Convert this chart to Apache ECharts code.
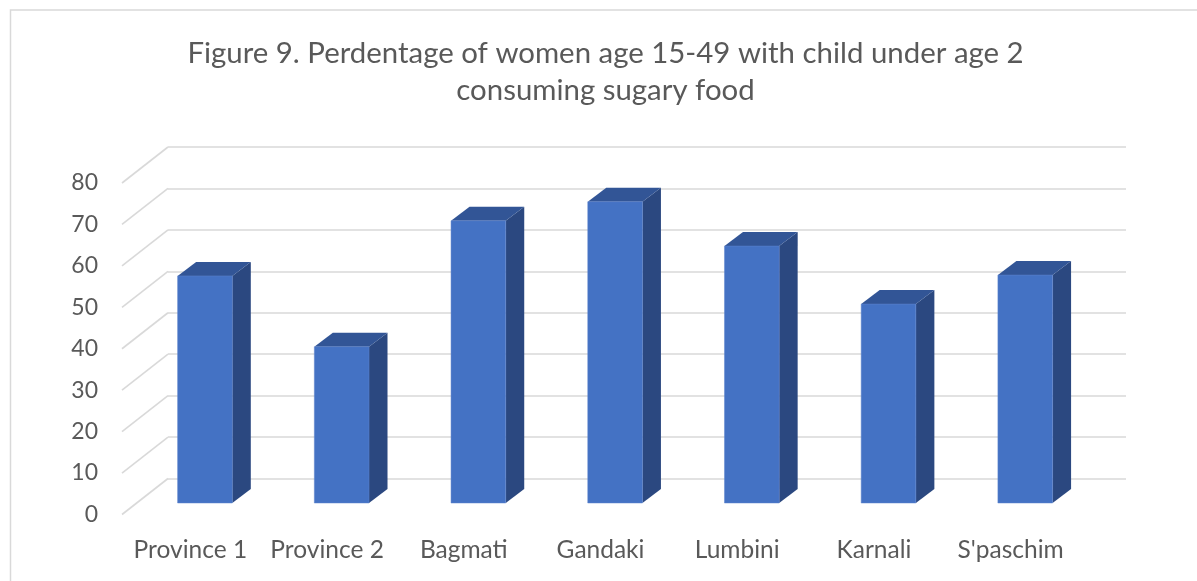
<!DOCTYPE html>
<html><head><meta charset="utf-8">
<script src="https://cdn.jsdelivr.net/npm/echarts@6/dist/echarts.min.js"></script>
<style>html,body{margin:0;padding:0;background:#fff}#c{width:1197px;height:581px}</style></head>
<body><div id="c"></div>
<script>
const titleText = "Figure 9. Perdentage of women age 15-49 with child under age 2\nconsuming sugary food";
const categories = ["Province 1","Province 2","Bagmati","Gandaki","Lumbini","Karnali","S'paschim"];
const values = [54.8,37.7,68.1,72.7,62,48,55];
const ticks = [0,10,20,30,40,50,60,70,80];
const FONT = "Lato";
const TEXT = "#595959", GRID = "#d9d9d9";
const FRONT = "#4472c4", TOP = "#325596", SIDE = "#2b4880";
const BAR_FRACTION = 0.4, BAR_DX = 18.5, BAR_DY = 14, WALL_DX = 46, WALL_DY = 36;

function barItem(params, api){
  const i = api.value(0), v = api.value(1);
  const top = api.coord([i, v]), base = api.coord([i, 0]);
  const w = api.size([1,0])[0] * BAR_FRACTION;
  const l = top[0]-w/2, r = top[0]+w/2, t = top[1], b = base[1];
  return {type:'group', children:[
    {type:'polygon', shape:{points:[[r,t],[r+BAR_DX,t-BAR_DY],[r+BAR_DX,b-BAR_DY],[r,b]]}, style:{fill:SIDE}},
    {type:'polygon', shape:{points:[[l,t],[l+BAR_DX,t-BAR_DY],[r+BAR_DX,t-BAR_DY],[r,t]]}, style:{fill:TOP}},
    {type:'rect', shape:{x:l,y:t,width:w,height:b-t}, style:{fill:FRONT, stroke:'#5f85cc', lineWidth:0.5}}
  ]};
}
function sideItem(params, api){
  const y = api.coord([0, api.value(0)])[1];
  const x = params.coordSys.x;
  return {type:'line', shape:{x1:x,y1:y,x2:x+WALL_DX,y2:y-WALL_DY},
          style:{stroke:GRID,lineWidth:1.6}};
}
const chart = echarts.init(document.getElementById('c'), null, {renderer:'canvas'});
chart.setOption({
  animation:false,
  backgroundColor:'#fff',
  title:{text:titleText,left:600.5,top:30,textAlign:'center',
    textStyle:{fontFamily:FONT,fontSize:29.4,fontWeight:'normal',color:TEXT,lineHeight:37}},
  graphic:[{type:'polyline',silent:true,shape:{points:[[10.5,581],[10.5,10],[1197,10]]},
    style:{fill:null,stroke:'#d9d9d9',lineWidth:1.5}}],
  grid:[
    {left:168,top:147,width:958,height:331.5},
    {left:136.6,top:171.5,width:957,height:331.5},
    {left:122,top:183,width:957,height:331.5}
  ],
  xAxis:[
    {gridIndex:0,type:'value',min:0,max:1,show:false},
    {gridIndex:1,type:'category',data:categories,show:false},
    {gridIndex:2,type:'category',data:categories,axisLine:{show:false},axisTick:{show:false},
      axisLabel:{fontFamily:FONT,fontSize:24.5,color:TEXT,margin:23,interval:0}}
  ],
  yAxis:[
    {gridIndex:0,type:'value',min:0,max:80,interval:10,axisLabel:{show:false},axisLine:{show:false},axisTick:{show:false},
      splitLine:{lineStyle:{color:GRID,width:1.6}}},
    {gridIndex:1,type:'value',min:0,max:80,interval:10,show:false,splitLine:{show:false}},
    {gridIndex:2,type:'value',min:0,max:80,interval:10,axisLine:{show:false},axisTick:{show:false},splitLine:{show:false},
      axisLabel:{fontFamily:FONT,fontSize:23,color:TEXT,margin:24,padding:[0,0,-5,0]}}
  ],
  series:[
    {type:'custom',xAxisIndex:2,yAxisIndex:2,data:ticks.map(t=>[t]),encode:{y:0},renderItem:sideItem,z:1,silent:true},
    {type:'custom',xAxisIndex:1,yAxisIndex:1,data:values.map((v,i)=>[i,v]),encode:{x:0,y:1},renderItem:barItem,z:3,silent:true}
  ]
});
</script></body></html>
